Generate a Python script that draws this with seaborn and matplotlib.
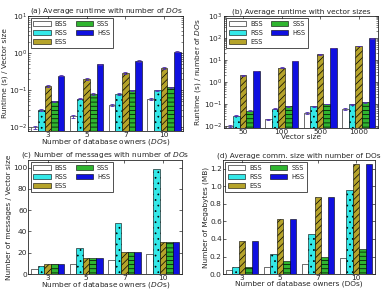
import matplotlib
matplotlib.use("Agg")
import matplotlib.pyplot as plt
import numpy as np
import pandas as pd
import seaborn as sns

schemes = ["BSS", "RSS", "ESS", "SSS", "HSS"]
colors = ["#ffffff", "#33e8e8", "#b5a32a", "#2fb52f", "#1010e0"]
hatches = ["", "...", "/////", "----", ""]

do_labels = ["3", "5", "7", "10"]
vec_labels = ["50", "100", "500", "1000"]

# (a) runtime / vector size vs number of DOs
runtime_do = {
    "BSS": [0.010, 0.020, 0.040, 0.060],
    "RSS": [0.030, 0.060, 0.080, 0.100],
    "ESS": [0.13, 0.20, 0.30, 0.40],
    "SSS": [0.050, 0.080, 0.100, 0.120],
    "HSS": [0.25, 0.50, 0.62, 1.10],
}
runtime_do_err = {
    "BSS": [0.001, 0.002, 0.003, 0.004],
    "RSS": [0.002, 0.003, 0.004, 0.005],
    "ESS": [0.010, 0.015, 0.020, 0.030],
    "SSS": [0.002, 0.003, 0.004, 0.005],
    "HSS": [0.010, 0.020, 0.030, 0.050],
}

# (b) runtime / number of DOs vs vector size
runtime_vec = {
    "BSS": [0.010, 0.020, 0.040, 0.060],
    "RSS": [0.030, 0.060, 0.080, 0.100],
    "ESS": [2.0, 4.5, 18.0, 42.0],
    "SSS": [0.050, 0.080, 0.100, 0.120],
    "HSS": [3.2, 9.0, 35.0, 95.0],
}
runtime_vec_err = {
    "BSS": [0.001, 0.002, 0.003, 0.004],
    "RSS": [0.002, 0.003, 0.004, 0.005],
    "ESS": [0.05, 0.1, 0.4, 1.0],
    "SSS": [0.002, 0.003, 0.004, 0.005],
    "HSS": [0.05, 0.2, 0.8, 2.0],
}

# (c) number of messages / vector size
messages = {
    "BSS": [5, 9, 13, 19],
    "RSS": [8, 24, 48, 99],
    "ESS": [9, 15, 21, 30],
    "SSS": [9, 15, 21, 30],
    "HSS": [9, 15, 21, 30],
}

# (d) communication size in MB
comm_mb = {
    "BSS": [0.045, 0.085, 0.120, 0.180],
    "RSS": [0.075, 0.230, 0.460, 0.960],
    "ESS": [0.375, 0.630, 0.880, 1.260],
    "SSS": [0.085, 0.145, 0.200, 0.290],
    "HSS": [0.375, 0.630, 0.880, 1.260],
}

FS = 5.3

sns.set_style("ticks")
plt.rcParams["font.family"] = ["DejaVu Sans"]
plt.rcParams["font.size"] = FS
plt.rcParams["xtick.direction"] = "in"
plt.rcParams["ytick.direction"] = "in"
plt.rcParams["xtick.top"] = True
plt.rcParams["ytick.right"] = True
plt.rcParams["hatch.linewidth"] = 0.5
plt.rcParams["axes.linewidth"] = 0.6


def to_frame(values, labels):
    rows = []
    for s in schemes:
        for lab, v in zip(labels, values[s]):
            rows.append({"x": lab, "scheme": s, "value": v})
    return pd.DataFrame(rows)


def draw(ax, values, labels, title, xlabel, ylabel, log=False, errs=None):
    df = to_frame(values, labels)
    sns.barplot(data=df, x="x", y="value", hue="scheme", order=labels,
                hue_order=schemes, palette=colors, edgecolor="black",
                linewidth=0.4, width=0.86, errorbar=None, saturation=1,
                ax=ax)
    for cont, s, h in zip(ax.containers, schemes, hatches):
        for bar in cont:
            bar.set_hatch(h)
        if errs is not None:
            xs = [b.get_x() + b.get_width() / 2 for b in cont]
            ys = [b.get_height() for b in cont]
            ax.errorbar(xs, ys, yerr=errs[s], fmt="none", ecolor="#5030b0",
                        elinewidth=0.6, capsize=1.2, capthick=0.6)
    if log:
        ax.set_yscale("log")
    ax.set_xlim(-0.5, len(labels) - 0.5)
    ax.set_title(title, fontsize=FS, pad=1.5)
    ax.set_xlabel(xlabel, fontsize=FS, labelpad=-0.8)
    ax.set_ylabel(ylabel, fontsize=FS, labelpad=0.5)
    ax.tick_params(labelsize=FS, length=2.5, width=0.5, pad=0.8)
    ax.tick_params(which="minor", length=1.5, width=0.4)
    ax.legend(ncol=2, loc="upper left", fontsize=4.8, frameon=True,
              fancybox=False, edgecolor="black", handlelength=2.6,
              handleheight=0.8, columnspacing=1.2, labelspacing=0.45,
              handletextpad=0.6, borderpad=0.4, borderaxespad=0.35)
    ax.get_legend().get_frame().set_linewidth(0.6)


fig = plt.figure(figsize=(3.85, 2.9), dpi=100)
ax_a = fig.add_axes([0.074, 0.548, 0.402, 0.397])
ax_b = fig.add_axes([0.581, 0.558, 0.401, 0.387])
ax_c = fig.add_axes([0.074, 0.055, 0.399, 0.393])
ax_d = fig.add_axes([0.579, 0.055, 0.395, 0.393])

draw(ax_a, runtime_do, do_labels,
     "(a) Average runtime with number of $DO$s",
     "Number of database owners ($DO$s)", "Runtime (s) / Vector size",
     log=True, errs=runtime_do_err)
ax_a.set_ylim(0.008, 10)

draw(ax_b, runtime_vec, vec_labels,
     "(b) Average runtime with vector sizes",
     "Vector size", "Runtime (s) / number of $DO$s",
     log=True, errs=runtime_vec_err)
ax_b.set_ylim(0.008, 1000)

draw(ax_c, messages, do_labels,
     "(c) Number of messages with number of $DO$s",
     "Number of database owners ($DO$s)", "Number of messages / Vector size")
ax_c.set_ylim(0, 107)
ax_c.set_yticks([0, 20, 40, 60, 80, 100])

draw(ax_d, comm_mb, do_labels,
     "(d) Average comm. size with number of DOs",
     "Number of database owners (DOs)", "Number of Megabytes (MB)")
ax_d.set_ylim(0, 1.3)
ax_d.set_yticks([0.0, 0.2, 0.4, 0.6, 0.8, 1.0, 1.2])
ax_d.set_yticklabels(["0.0", "0.2", "0.4", "0.6", "0.8", "1.0", "1.2"])

fig.savefig("out.png", dpi=100)
